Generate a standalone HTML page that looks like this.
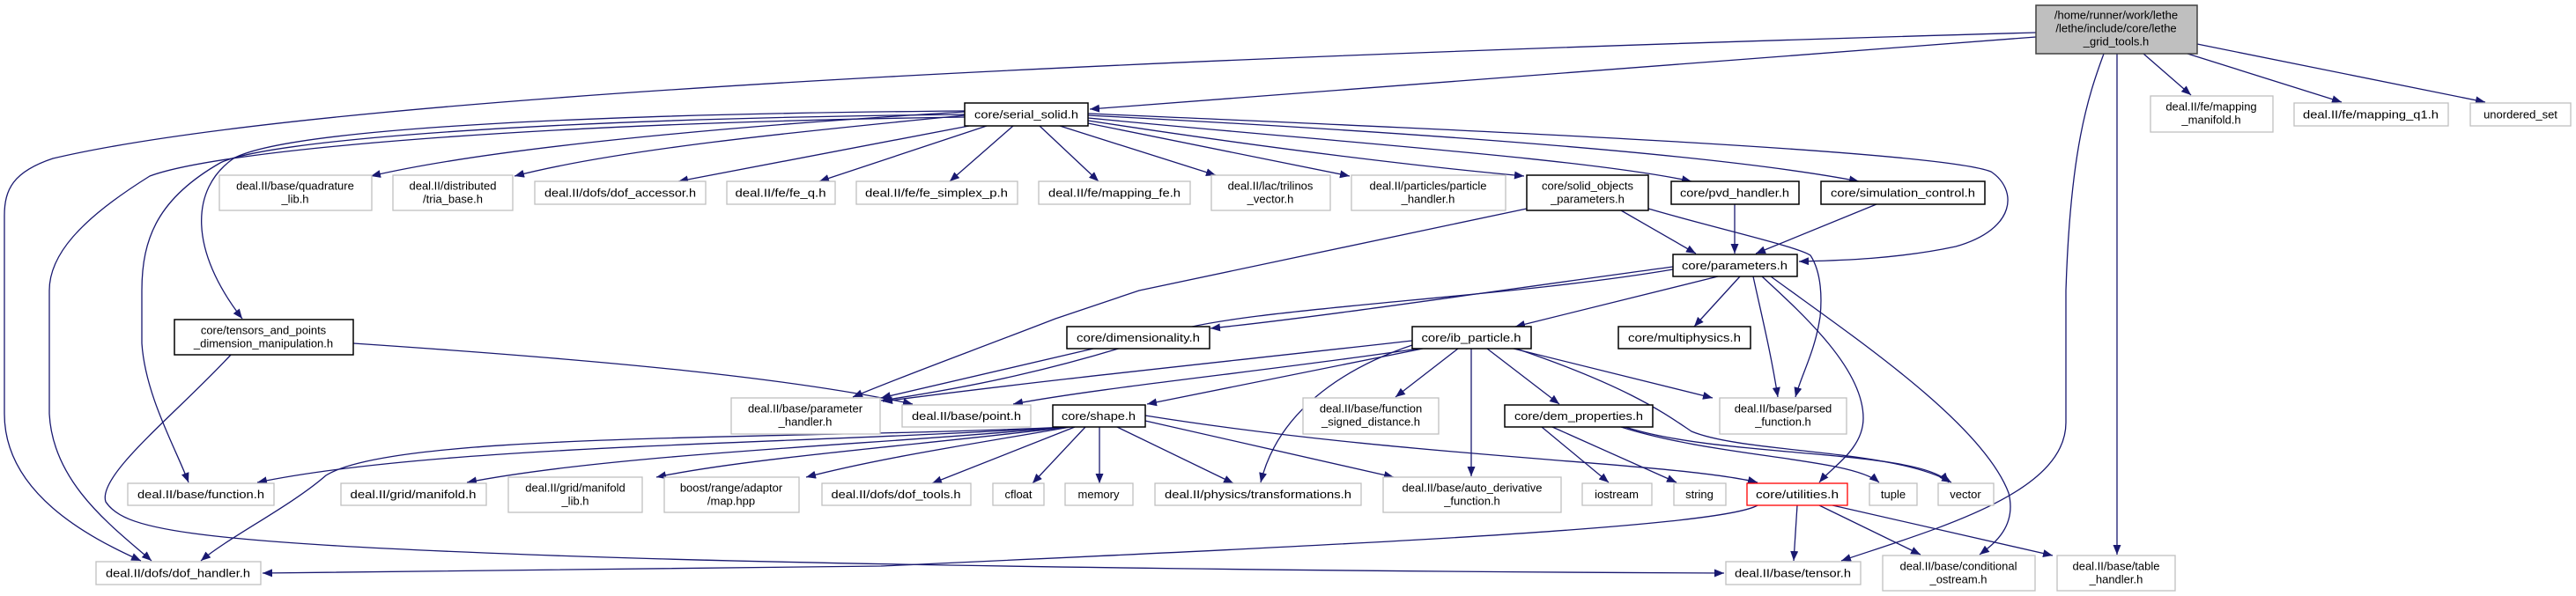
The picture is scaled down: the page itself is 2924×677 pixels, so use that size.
<!DOCTYPE html>
<html><head><meta charset="utf-8"><style>
html,body{margin:0;padding:0;background:#fff;}
svg{display:block;}
text{font-family:"Liberation Sans",sans-serif;font-size:13px;fill:#000;text-anchor:middle;}
.g{fill:#fff;stroke:#bfbfbf;stroke-width:1.3;}
.b{fill:#fff;stroke:#000;stroke-width:1.5;}
.r{fill:#fff;stroke:#ff0000;stroke-width:1.3;}
.t{fill:#bfbfbf;stroke:#404040;stroke-width:1.5;}
path.e{fill:none;stroke:#191970;stroke-width:1.3;marker-end:url(#a);}
</style></head><body>
<svg width="2924" height="677" viewBox="0 0 2924 677" xmlns="http://www.w3.org/2000/svg">
<defs><marker id="a" markerUnits="userSpaceOnUse" markerWidth="12" markerHeight="10" refX="11" refY="4.5" orient="auto"><path d="M0,0 L11,4.5 L0,9 z" fill="#191970"/></marker></defs>

<path class="e" d="M2311,42 L1237,124"/>
<path class="e" d="M2311,37 C1500,60 400,100 60,180 C15,195 5,215 5,245 L5,470 C5,560 100,610 160,637"/>
<path class="e" d="M2433,61 L2487,108"/>
<path class="e" d="M2483,61 L2658,116"/>
<path class="e" d="M2494,50 L2821,116"/>
<path class="e" d="M2403,61 L2403,630"/>
<path class="e" d="M2388,61 C2370,110 2350,170 2345,330 L2345,480 C2345,560 2200,600 2090,637"/>

<path class="e" d="M1095,127 C800,145 550,170 421,200"/>
<path class="e" d="M1095,131 C900,150 700,170 584,200"/>
<path class="e" d="M1100,143 L770,206"/>
<path class="e" d="M1120,143 L930,206"/>
<path class="e" d="M1150,143 L1078,206"/>
<path class="e" d="M1180,143 L1247,206"/>
<path class="e" d="M1203,143 L1380,199"/>
<path class="e" d="M1235,140 L1532,200"/>
<path class="e" d="M1235,137 C1450,170 1620,190 1730,200"/>
<path class="e" d="M1235,134 C1500,160 1800,180 1920,206"/>
<path class="e" d="M1235,131 C1600,150 1950,175 2110,206"/>
<path class="e" d="M1235,129 C1600,145 2200,170 2260,195 C2290,215 2290,260 2220,280 C2150,295 2080,296 2042,297"/>
<path class="e" d="M1095,126 C600,130 320,150 265,180 C215,215 215,285 275,362"/>
<path class="e" d="M1095,130 C600,135 300,160 250,185 C180,225 161,270 161,330 L161,390 C165,450 200,510 214,548"/>
<path class="e" d="M1095,133 C600,140 250,170 170,200 C90,250 56,290 56,330 L56,470 C60,550 130,600 172,637"/>

<path class="e" d="M1840,239 L1925,288"/>
<path class="e" d="M1733,237 L1293,330 L1198,362 C1100,400 1030,425 968,451"/>
<path class="e" d="M1871,237 C1950,260 2040,280 2055,290 C2068,310 2068,340 2066,360 C2060,400 2045,425 2038,451"/>
<path class="e" d="M1969,232 L1969,288"/>
<path class="e" d="M2130,232 L1993,288"/>

<path class="e" d="M1899,303 C1700,330 1500,360 1374,373"/>
<path class="e" d="M1899,306 C1700,340 1400,350 1320,380 C1200,420 1100,440 1000,455"/>
<path class="e" d="M1950,314 L1720,371"/>
<path class="e" d="M1975,314 L1923,371"/>
<path class="e" d="M1990,314 C2000,360 2010,400 2018,451"/>
<path class="e" d="M2000,314 C2050,360 2115,420 2115,475 C2115,510 2080,530 2065,548"/>
<path class="e" d="M2010,314 C2100,380 2250,480 2280,560 C2290,600 2260,620 2247,630"/>

<path class="e" d="M1241,396 L1000,452"/>
<path class="e" d="M401,390 C700,410 900,430 1036,459"/>
<path class="e" d="M262,403 C200,470 110,540 120,570 C140,600 200,615 600,630 C1000,645 1700,650 1957,651"/>

<path class="e" d="M1603,387 C1400,410 1200,430 1002,456"/>
<path class="e" d="M1610,396 C1450,420 1250,440 1150,459"/>
<path class="e" d="M1615,396 C1500,420 1400,440 1302,459"/>
<path class="e" d="M1655,396 L1584,451"/>
<path class="e" d="M1670,396 L1670,541"/>
<path class="e" d="M1688,396 L1770,459"/>
<path class="e" d="M1718,396 L1944,452"/>
<path class="e" d="M1603,392 C1520,420 1450,470 1431,548"/>
<path class="e" d="M1721,396 C1850,440 1890,470 1920,490 C1980,515 2150,510 2215,548"/>

<path class="e" d="M1750,485 L1826,548"/>
<path class="e" d="M1762,485 L1903,548"/>
<path class="e" d="M1840,485 C1950,520 2100,520 2133,548"/>
<path class="e" d="M1845,485 C1950,520 2180,510 2212,548"/>

<path class="e" d="M1212,485 C900,505 500,505 292,548"/>
<path class="e" d="M1212,485 C1000,505 700,515 530,548"/>
<path class="e" d="M1213,485 C1050,505 850,520 745,542"/>
<path class="e" d="M1215,485 C1100,505 1000,520 915,542"/>
<path class="e" d="M1220,485 L1058,549"/>
<path class="e" d="M1232,485 L1172,549"/>
<path class="e" d="M1248,485 L1248,549"/>
<path class="e" d="M1268,485 L1400,549"/>
<path class="e" d="M1300,478 L1582,542"/>
<path class="e" d="M1300,472 C1600,520 1900,525 1995,548"/>
<path class="e" d="M1210,485 C900,500 450,490 370,540 C330,575 260,610 228,637"/>

<path class="e" d="M1995,574 C1950,600 1500,620 1000,643 C700,648 400,650 298,651"/>
<path class="e" d="M2040,574 L2036,637"/>
<path class="e" d="M2065,574 L2180,630"/>
<path class="e" d="M2080,574 L2330,631"/>

<rect class="t" x="2311" y="6" width="183" height="55"/>
<text x="2402" y="21.5">/home/runner/work/lethe</text>
<text x="2402" y="36.5">/lethe/include/core/lethe</text>
<text x="2402" y="51.5">_grid_tools.h</text>

<rect class="b" x="1095" y="117" width="140" height="26"/><text x="1165" y="134.5" textLength="118" lengthAdjust="spacingAndGlyphs">core/serial_solid.h</text>
<rect class="g" x="2441" y="109" width="139" height="41"/><text x="2510" y="125.5">deal.II/fe/mapping</text><text x="2510" y="140.5">_manifold.h</text>
<rect class="g" x="2604" y="117" width="175" height="26"/><text x="2691" y="134.5" textLength="154" lengthAdjust="spacingAndGlyphs">deal.II/fe/mapping_q1.h</text>
<rect class="g" x="2804" y="117" width="114" height="26"/><text x="2861" y="134.5">unordered_set</text>

<rect class="g" x="249" y="199" width="173" height="40"/><text x="335" y="215.5">deal.II/base/quadrature</text><text x="335" y="230.5">_lib.h</text>
<rect class="g" x="446" y="199" width="136" height="40"/><text x="514" y="215.5">deal.II/distributed</text><text x="514" y="230.5">/tria_base.h</text>
<rect class="g" x="607" y="206" width="194" height="26"/><text x="704" y="223.5" textLength="172" lengthAdjust="spacingAndGlyphs">deal.II/dofs/dof_accessor.h</text>
<rect class="g" x="825" y="206" width="123" height="26"/><text x="886" y="223.5" textLength="103" lengthAdjust="spacingAndGlyphs">deal.II/fe/fe_q.h</text>
<rect class="g" x="972" y="206" width="183" height="26"/><text x="1063" y="223.5" textLength="162" lengthAdjust="spacingAndGlyphs">deal.II/fe/fe_simplex_p.h</text>
<rect class="g" x="1179" y="206" width="172" height="26"/><text x="1265" y="223.5" textLength="150" lengthAdjust="spacingAndGlyphs">deal.II/fe/mapping_fe.h</text>
<rect class="g" x="1375" y="199" width="135" height="40"/><text x="1442" y="215.5">deal.II/lac/trilinos</text><text x="1442" y="230.5">_vector.h</text>
<rect class="g" x="1534" y="199" width="175" height="40"/><text x="1621" y="215.5">deal.II/particles/particle</text><text x="1621" y="230.5">_handler.h</text>
<rect class="b" x="1733" y="199" width="138" height="40"/><text x="1802" y="215.5">core/solid_objects</text><text x="1802" y="230.5">_parameters.h</text>
<rect class="b" x="1897" y="206" width="145" height="26"/><text x="1969" y="223.5" textLength="124" lengthAdjust="spacingAndGlyphs">core/pvd_handler.h</text>
<rect class="b" x="2067" y="206" width="186" height="26"/><text x="2160" y="223.5" textLength="164" lengthAdjust="spacingAndGlyphs">core/simulation_control.h</text>

<rect class="b" x="1899" y="289" width="141" height="25"/><text x="1969" y="306" textLength="120" lengthAdjust="spacingAndGlyphs">core/parameters.h</text>

<rect class="b" x="198" y="363" width="203" height="40"/><text x="299" y="379.5">core/tensors_and_points</text><text x="299" y="394.5">_dimension_manipulation.h</text>
<rect class="b" x="1211" y="371" width="162" height="25"/><text x="1292" y="388" textLength="140" lengthAdjust="spacingAndGlyphs">core/dimensionality.h</text>
<rect class="b" x="1603" y="371" width="135" height="25"/><text x="1670" y="388" textLength="113" lengthAdjust="spacingAndGlyphs">core/ib_particle.h</text>
<rect class="b" x="1837" y="371" width="150" height="25"/><text x="1912" y="388" textLength="128" lengthAdjust="spacingAndGlyphs">core/multiphysics.h</text>

<rect class="g" x="830" y="452" width="169" height="41"/><text x="914" y="468.5">deal.II/base/parameter</text><text x="914" y="483.5">_handler.h</text>
<rect class="g" x="1024" y="460" width="146" height="25"/><text x="1097" y="477" textLength="124" lengthAdjust="spacingAndGlyphs">deal.II/base/point.h</text>
<rect class="b" x="1195" y="460" width="105" height="25"/><text x="1247" y="477" textLength="84" lengthAdjust="spacingAndGlyphs">core/shape.h</text>
<rect class="g" x="1479" y="452" width="154" height="41"/><text x="1556" y="468.5">deal.II/base/function</text><text x="1556" y="483.5">_signed_distance.h</text>
<rect class="b" x="1708" y="460" width="168" height="25"/><text x="1792" y="477" textLength="146" lengthAdjust="spacingAndGlyphs">core/dem_properties.h</text>
<rect class="g" x="1952" y="452" width="144" height="41"/><text x="2024" y="468.5">deal.II/base/parsed</text><text x="2024" y="483.5">_function.h</text>

<rect class="g" x="145" y="549" width="166" height="25"/><text x="228" y="566" textLength="144" lengthAdjust="spacingAndGlyphs">deal.II/base/function.h</text>
<rect class="g" x="387" y="549" width="165" height="25"/><text x="469" y="566" textLength="143" lengthAdjust="spacingAndGlyphs">deal.II/grid/manifold.h</text>
<rect class="g" x="577" y="542" width="152" height="40"/><text x="653" y="558.5">deal.II/grid/manifold</text><text x="653" y="573.5">_lib.h</text>
<rect class="g" x="754" y="542" width="153" height="40"/><text x="830" y="558.5">boost/range/adaptor</text><text x="830" y="573.5">/map.hpp</text>
<rect class="g" x="933" y="549" width="169" height="25"/><text x="1017" y="566" textLength="147" lengthAdjust="spacingAndGlyphs">deal.II/dofs/dof_tools.h</text>
<rect class="g" x="1127" y="549" width="58" height="25"/><text x="1156" y="566">cfloat</text>
<rect class="g" x="1209" y="549" width="77" height="25"/><text x="1247" y="566">memory</text>
<rect class="g" x="1311" y="549" width="234" height="25"/><text x="1428" y="566" textLength="212" lengthAdjust="spacingAndGlyphs">deal.II/physics/transformations.h</text>
<rect class="g" x="1570" y="542" width="202" height="40"/><text x="1671" y="558.5">deal.II/base/auto_derivative</text><text x="1671" y="573.5">_function.h</text>
<rect class="g" x="1796" y="549" width="79" height="25"/><text x="1835" y="566">iostream</text>
<rect class="g" x="1900" y="549" width="59" height="25"/><text x="1929" y="566">string</text>
<rect class="r" x="1983" y="549" width="114" height="25"/><text x="2040" y="566" textLength="94" lengthAdjust="spacingAndGlyphs">core/utilities.h</text>
<rect class="g" x="2122" y="549" width="54" height="25"/><text x="2149" y="566">tuple</text>
<rect class="g" x="2200" y="549" width="63" height="25"/><text x="2231" y="566">vector</text>

<rect class="g" x="109" y="638" width="187" height="26"/><text x="202" y="655.5" textLength="164" lengthAdjust="spacingAndGlyphs">deal.II/dofs/dof_handler.h</text>
<rect class="g" x="1959" y="638" width="153" height="26"/><text x="2035" y="655.5" textLength="132" lengthAdjust="spacingAndGlyphs">deal.II/base/tensor.h</text>
<rect class="g" x="2137" y="631" width="173" height="40"/><text x="2223" y="647.5">deal.II/base/conditional</text><text x="2223" y="662.5">_ostream.h</text>
<rect class="g" x="2335" y="631" width="134" height="40"/><text x="2402" y="647.5">deal.II/base/table</text><text x="2402" y="662.5">_handler.h</text>
</svg>
</body></html>
